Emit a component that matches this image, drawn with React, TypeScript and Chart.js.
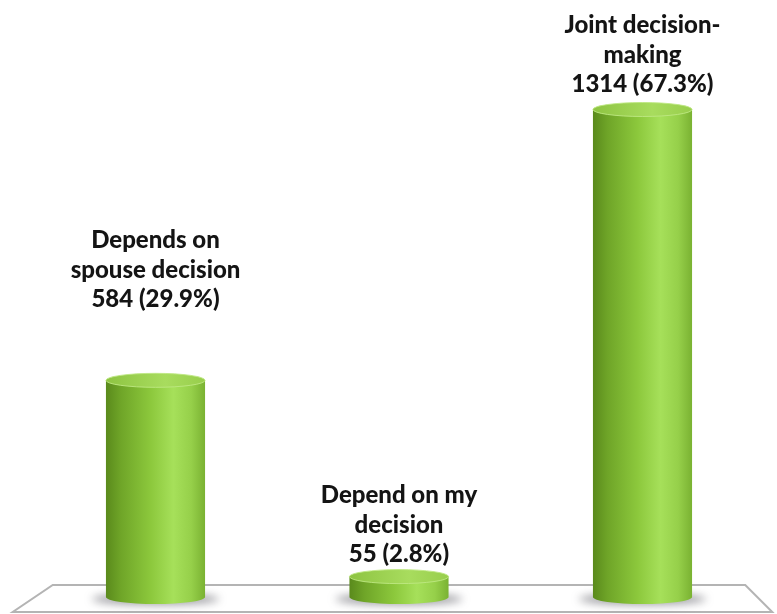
import React, { useEffect, useRef } from "react";
import { Chart, registerables } from "chart.js";

Chart.register(...registerables);

// ---- data ----
const categories: string[][] = [
  ["Depends on", "spouse decision"],
  ["Depend on my", "decision"],
  ["Joint decision-", "making"],
];
const counts: number[] = [584, 55, 1314];
const percents: number[] = [29.9, 2.8, 67.3];
const labelLift: number[] = [56, -3, 0];

const cylinderPlugin = {
  id: "cylinders",
  beforeDatasetsDraw(chart: any) {
    const { ctx, chartArea } = chart;
    const { left, right, bottom } = chartArea;
    ctx.save();
    ctx.beginPath();
    ctx.moveTo(left + 19, bottom - 12);
    ctx.lineTo(right - 19, bottom - 12);
    ctx.lineTo(right + 8, bottom + 15);
    ctx.lineTo(left - 21, bottom + 15);
    ctx.closePath();
    ctx.fillStyle = "#ffffff";
    ctx.fill();
    ctx.lineWidth = 2;
    ctx.strokeStyle = "#b4b4b4";
    ctx.stroke();
    ctx.restore();
  },
  afterDatasetsDraw(chart: any) {
    const { ctx } = chart;
    const meta = chart.getDatasetMeta(0);
    meta.data.forEach((el: any, i: number) => {
      const { x, y, base, width } = el.getProps(["x", "y", "base", "width"], true);
      const rx = width / 2;
      const ry = 7;
      // shadow
      ctx.save();
      ctx.filter = "blur(4px)";
      ctx.fillStyle = "rgba(80,80,90,0.55)";
      ctx.beginPath();
      ctx.ellipse(x, base + 2, rx + 14, 6, 0, 0, Math.PI * 2);
      ctx.fill();
      ctx.restore();
      // body
      ctx.save();
      const g = ctx.createLinearGradient(x - rx, 0, x + rx, 0);
      g.addColorStop(0, "#5a8a1c");
      g.addColorStop(0.15, "#6fa528");
      g.addColorStop(0.45, "#8cc83c");
      g.addColorStop(0.68, "#a6e05a");
      g.addColorStop(0.86, "#96d04a");
      g.addColorStop(1, "#7ab232");
      ctx.fillStyle = g;
      ctx.beginPath();
      ctx.moveTo(x - rx, y);
      ctx.lineTo(x - rx, base);
      ctx.ellipse(x, base, rx, ry, 0, Math.PI, 0, true);
      ctx.lineTo(x + rx, y);
      ctx.closePath();
      ctx.fill();
      // top
      const tg = ctx.createLinearGradient(x - rx, 0, x + rx, 0);
      tg.addColorStop(0, "#8ec442");
      tg.addColorStop(0.6, "#a8dc5e");
      tg.addColorStop(1, "#98ce4c");
      ctx.fillStyle = tg;
      ctx.beginPath();
      ctx.ellipse(x, y, rx, ry, 0, 0, Math.PI * 2);
      ctx.fill();
      ctx.lineWidth = 1;
      ctx.strokeStyle = "rgba(190,232,130,0.9)";
      ctx.stroke();
      ctx.restore();
      // label
      const lines = [...categories[i], `${counts[i]} (${percents[i]}%)`];
      const lineH = 29.5;
      const lastY = y - ry - 18 - labelLift[i];
      ctx.save();
      ctx.font = "900 24px Lato";
      ctx.fillStyle = "#141414";
      ctx.textAlign = "center";
      ctx.textBaseline = "middle";
      lines.forEach((t, j) => {
        ctx.fillText(t, x, lastY - (lines.length - 1 - j) * lineH);
      });
      ctx.restore();
    });
  },
};

export default function App() {
  const ref = useRef<HTMLCanvasElement | null>(null);
  useEffect(() => {
    document.body.style.margin = "0";
    document.body.style.overflow = "hidden";
    if (!ref.current) return;
    const chart = new Chart(ref.current, {
      type: "bar",
      data: {
        labels: categories.map((c) => c.join(" ")),
        datasets: [
          {
            data: counts,
            backgroundColor: "rgba(0,0,0,0)",
            borderWidth: 0,
            barPercentage: 0.407,
            categoryPercentage: 1,
          },
        ],
      },
      options: {
        animation: false,
        responsive: true,
        maintainAspectRatio: false,
        layout: { padding: { left: 33.75, right: 12.75, top: 109.5, bottom: 17 } },
        scales: {
          x: { display: false },
          y: { display: false, min: 0, max: 1314 },
        },
        plugins: {
          legend: { display: false },
          tooltip: { enabled: false },
        },
      },
      plugins: [cylinderPlugin],
    });
    return () => chart.destroy();
  }, []);
  return (
    <div style={{ width: 777, height: 614, position: "relative" }}>
      <canvas ref={ref} />
    </div>
  );
}
